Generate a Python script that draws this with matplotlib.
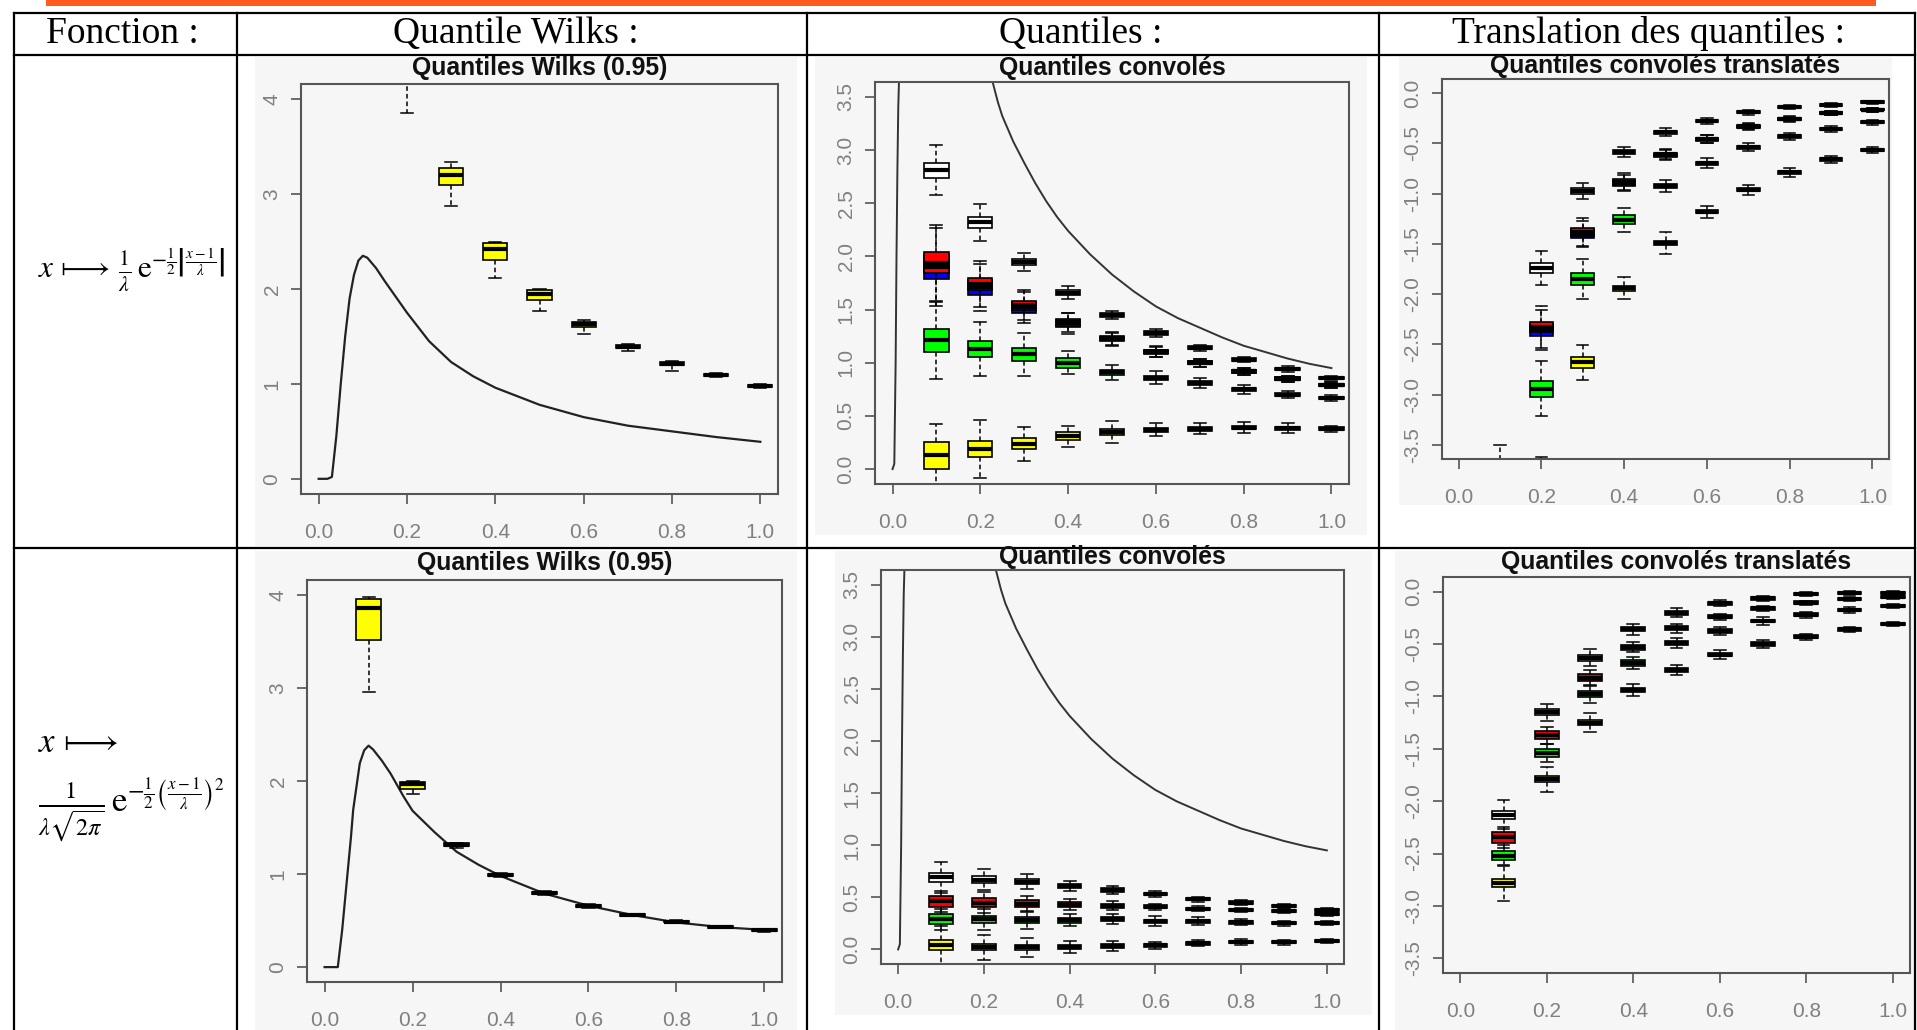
import numpy as np
import matplotlib
matplotlib.use('Agg')
import matplotlib.pyplot as plt
from matplotlib.patches import Rectangle

plt.rcParams['font.family'] = ['Liberation Sans', 'DejaVu Sans']
plt.rcParams['mathtext.fontset'] = 'stix'

W, H = 1917, 1030

# ---------------- data ----------------
x_pos = [0.1, 0.2, 0.3, 0.4, 0.5, 0.6, 0.7, 0.8, 0.9, 1.0]
x_ticks = [0.0, 0.2, 0.4, 0.6, 0.8, 1.0]
x_ticklabels = ['0.0', '0.2', '0.4', '0.6', '0.8', '1.0']

headers = ['Fonction :', 'Quantile Wilks :', 'Quantiles :', 'Translation des quantiles :']
titles_wilks = 'Quantiles Wilks (0.95)'
titles_conv = 'Quantiles convolés'
titles_trans = 'Quantiles convolés translatés'

# density curves (Wilks panels)
lap_x = [0.0, 0.02, 0.03, 0.04, 0.05, 0.06, 0.07, 0.08, 0.09, 0.1, 0.11, 0.13, 0.15,
         0.2, 0.25, 0.3, 0.35, 0.4, 0.5, 0.6, 0.7, 0.8, 0.9, 1.0]
lap_y = [0.0, 0.0, 0.02, 0.45, 1.0, 1.5, 1.9, 2.15, 2.3, 2.35, 2.33, 2.22, 2.08,
         1.75, 1.45, 1.23, 1.08, 0.96, 0.78, 0.65, 0.56, 0.50, 0.44, 0.39]
gau_x = [0.0, 0.03, 0.04, 0.05, 0.06, 0.065, 0.08, 0.09, 0.1, 0.11, 0.13, 0.15,
         0.18, 0.2, 0.25, 0.3, 0.35, 0.4, 0.5, 0.6, 0.7, 0.8, 0.9, 1.0]
gau_y = [0.0, 0.0, 0.4, 0.9, 1.4, 1.69, 2.19, 2.33, 2.38, 2.34, 2.22, 2.08,
         1.83, 1.68, 1.45, 1.24, 1.1, 0.98, 0.79, 0.66, 0.56, 0.48, 0.43, 0.40]

# curves of the convolved panels
hyp_x = [0.228, 0.24, 0.25, 0.275, 0.3, 0.325, 0.35, 0.375, 0.4, 0.45, 0.5, 0.55,
         0.6, 0.65, 0.7, 0.75, 0.8, 0.85, 0.9, 0.95, 1.0]
hyp_y = [3.64, 3.45, 3.32, 3.08, 2.88, 2.69, 2.52, 2.37, 2.24, 2.02, 1.83, 1.67,
         1.53, 1.42, 1.33, 1.24, 1.16, 1.10, 1.04, 0.99, 0.95]
vert_x = [0.0, 0.004, 0.007, 0.009, 0.011, 0.013, 0.015]
vert_y = [0.0, 0.05, 1.0, 2.0, 2.8, 3.4, 3.7]

# Wilks boxplots, row 1
wilks1_lo = [5.2, 3.85, 2.87, 2.12, 1.77, 1.53, 1.35, 1.14, 1.07, 0.96]
wilks1_q1 = [5.6, 4.3, 3.10, 2.31, 1.88, 1.60, 1.38, 1.20, 1.08, 0.965]
wilks1_med = [5.9, 4.5, 3.20, 2.42, 1.95, 1.63, 1.39, 1.21, 1.09, 0.98]
wilks1_q3 = [6.2, 4.7, 3.27, 2.48, 1.99, 1.65, 1.41, 1.23, 1.10, 0.99]
wilks1_hi = [6.8, 5.1, 3.34, 2.50, 2.00, 1.67, 1.42, 1.24, 1.11, 1.00]

# Wilks boxplots, row 2
wilks2_lo = [2.96, 1.86, 1.28, 0.97, 0.78, 0.64, 0.55, 0.48, 0.42, 0.38]
wilks2_q1 = [3.52, 1.91, 1.30, 0.98, 0.79, 0.65, 0.55, 0.485, 0.425, 0.39]
wilks2_med = [3.86, 1.97, 1.31, 0.99, 0.80, 0.66, 0.56, 0.49, 0.43, 0.40]
wilks2_q3 = [3.96, 1.99, 1.33, 1.00, 0.81, 0.67, 0.57, 0.50, 0.44, 0.405]
wilks2_hi = [3.98, 1.995, 1.33, 1.01, 0.82, 0.675, 0.575, 0.505, 0.445, 0.41]

# convolved quantiles, row 1 (median, half box, half whisker)
conv1_white_med = [2.81, 2.32, 1.95, 1.66, 1.45, 1.28, 1.14, 1.03, 0.94, 0.86]
conv1_white_box = [0.07, 0.055, 0.03, 0.025, 0.02, 0.015, 0.015, 0.012, 0.012, 0.01]
conv1_white_wsk = [0.235, 0.175, 0.085, 0.06, 0.04, 0.035, 0.03, 0.025, 0.025, 0.02]
conv1_blue_med = [1.90, 1.71, 1.52, 1.37, 1.22, 1.10, 1.00, 0.92, 0.85, 0.79]
conv1_blue_box = [0.11, 0.07, 0.05, 0.03, 0.02, 0.018, 0.015, 0.012, 0.012, 0.01]
conv1_blue_wsk = [0.37, 0.22, 0.15, 0.095, 0.06, 0.05, 0.04, 0.035, 0.03, 0.025]
conv1_red_med = [1.94, 1.74, 1.54, 1.38, 1.23, 1.105, 1.00, 0.92, 0.85, 0.79]
conv1_red_box = [0.10, 0.06, 0.045, 0.03, 0.02, 0.015, 0.015, 0.012, 0.012, 0.01]
conv1_red_wsk = [0.36, 0.22, 0.14, 0.09, 0.06, 0.05, 0.04, 0.035, 0.03, 0.025]
conv1_green_med = [1.21, 1.13, 1.08, 1.00, 0.91, 0.86, 0.81, 0.75, 0.70, 0.67]
conv1_green_box = [0.11, 0.075, 0.06, 0.047, 0.025, 0.02, 0.018, 0.015, 0.012, 0.01]
conv1_green_wsk = [0.36, 0.25, 0.2, 0.11, 0.07, 0.06, 0.05, 0.045, 0.03, 0.025]
conv1_yellow_med = [0.13, 0.19, 0.24, 0.31, 0.35, 0.37, 0.38, 0.39, 0.385, 0.38]
conv1_yellow_box = [0.125, 0.078, 0.055, 0.035, 0.03, 0.02, 0.018, 0.015, 0.015, 0.012]
conv1_yellow_wsk = [0.29, 0.27, 0.16, 0.10, 0.10, 0.06, 0.05, 0.05, 0.05, 0.03]

# translated quantiles, row 1
tr1_white_med = [-3.9, -1.74, -0.97, -0.59, -0.39, -0.28, -0.19, -0.14, -0.12, -0.09]
tr1_white_box = [0.1, 0.05, 0.03, 0.02, 0.015, 0.012, 0.012, 0.01, 0.01, 0.008]
tr1_white_wsk = [0.4, 0.17, 0.08, 0.05, 0.04, 0.03, 0.025, 0.02, 0.02, 0.015]
tr1_blue_med = [-4.55, -2.36, -1.40, -0.89, -0.62, -0.46, -0.335, -0.26, -0.2, -0.165]
tr1_blue_box = [0.1, 0.06, 0.045, 0.03, 0.015, 0.012, 0.012, 0.01, 0.01, 0.008]
tr1_blue_wsk = [0.3, 0.2, 0.13, 0.08, 0.05, 0.04, 0.03, 0.025, 0.02, 0.02]
tr1_red_med = [-4.5, -2.33, -1.38, -0.88, -0.61, -0.455, -0.33, -0.255, -0.2, -0.165]
tr1_red_box = [0.1, 0.05, 0.04, 0.03, 0.015, 0.012, 0.012, 0.01, 0.01, 0.008]
tr1_red_wsk = [0.3, 0.21, 0.14, 0.08, 0.05, 0.04, 0.03, 0.025, 0.02, 0.02]
tr1_green_med = [-5.3, -2.94, -1.85, -1.26, -0.92, -0.70, -0.54, -0.43, -0.355, -0.29]
tr1_green_box = [0.1, 0.08, 0.06, 0.047, 0.02, 0.015, 0.015, 0.012, 0.012, 0.01]
tr1_green_wsk = [0.3, 0.27, 0.2, 0.12, 0.06, 0.05, 0.04, 0.035, 0.03, 0.025]
tr1_yellow_med = [-6.0, -4.1, -2.68, -1.94, -1.49, -1.18, -0.96, -0.79, -0.66, -0.57]
tr1_yellow_box = [0.1, 0.15, 0.05, 0.025, 0.02, 0.015, 0.015, 0.012, 0.012, 0.01]
tr1_yellow_wsk = [0.3, 0.48, 0.17, 0.11, 0.11, 0.06, 0.05, 0.04, 0.035, 0.03]

# convolved quantiles, row 2
conv2_white_med = [0.69, 0.67, 0.65, 0.61, 0.57, 0.53, 0.48, 0.45, 0.42, 0.38]
conv2_white_box = [0.04, 0.03, 0.025, 0.02, 0.015, 0.012, 0.01, 0.01, 0.01, 0.01]
conv2_white_wsk = [0.15, 0.1, 0.07, 0.05, 0.04, 0.03, 0.025, 0.02, 0.02, 0.02]
conv2_red_med = [0.46, 0.45, 0.44, 0.43, 0.42, 0.41, 0.39, 0.38, 0.37, 0.34]
conv2_red_box = [0.05, 0.04, 0.03, 0.025, 0.02, 0.015, 0.012, 0.012, 0.01, 0.01]
conv2_red_wsk = [0.1, 0.1, 0.07, 0.05, 0.04, 0.03, 0.025, 0.02, 0.02, 0.02]
conv2_green_med = [0.29, 0.29, 0.28, 0.28, 0.29, 0.27, 0.27, 0.26, 0.25, 0.25]
conv2_green_box = [0.045, 0.035, 0.03, 0.025, 0.02, 0.015, 0.012, 0.012, 0.01, 0.01]
conv2_green_wsk = [0.1, 0.1, 0.08, 0.06, 0.05, 0.05, 0.04, 0.03, 0.025, 0.02]
conv2_yellow_med = [0.04, 0.02, 0.02, 0.025, 0.035, 0.04, 0.06, 0.07, 0.07, 0.08]
conv2_yellow_box = [0.05, 0.03, 0.025, 0.02, 0.02, 0.015, 0.015, 0.012, 0.012, 0.012]
conv2_yellow_wsk = [0.18, 0.12, 0.09, 0.06, 0.05, 0.035, 0.03, 0.03, 0.025, 0.02]

# translated quantiles, row 2
tr2_white_med = [-2.13, -1.15, -0.63, -0.36, -0.2, -0.11, -0.065, -0.02, -0.01, -0.01]
tr2_white_box = [0.04, 0.03, 0.03, 0.02, 0.02, 0.015, 0.012, 0.012, 0.01, 0.01]
tr2_white_wsk = [0.14, 0.08, 0.08, 0.05, 0.04, 0.03, 0.025, 0.02, 0.02, 0.02]
tr2_red_med = [-2.345, -1.37, -0.82, -0.53, -0.35, -0.24, -0.16, -0.105, -0.07, -0.054]
tr2_red_box = [0.05, 0.04, 0.035, 0.025, 0.02, 0.015, 0.012, 0.012, 0.01, 0.01]
tr2_red_wsk = [0.1, 0.08, 0.07, 0.05, 0.04, 0.03, 0.025, 0.02, 0.02, 0.02]
tr2_green_med = [-2.52, -1.54, -0.98, -0.68, -0.49, -0.375, -0.28, -0.22, -0.175, -0.137]
tr2_green_box = [0.045, 0.035, 0.03, 0.025, 0.02, 0.015, 0.012, 0.012, 0.01, 0.01]
tr2_green_wsk = [0.1, 0.09, 0.08, 0.06, 0.05, 0.04, 0.035, 0.03, 0.025, 0.02]
tr2_yellow_med = [-2.78, -1.79, -1.25, -0.94, -0.75, -0.6, -0.5, -0.43, -0.36, -0.31]
tr2_yellow_box = [0.04, 0.03, 0.025, 0.02, 0.02, 0.015, 0.015, 0.012, 0.012, 0.012]
tr2_yellow_wsk = [0.17, 0.12, 0.09, 0.06, 0.05, 0.04, 0.035, 0.03, 0.025, 0.02]

c_white, c_blue, c_red, c_green, c_yellow = '#ffffff', '#0000ff', '#ff0000', '#00ff00', '#ffff00'
img_gray = '#f6f6f6'

# ---------------- figure ----------------
fig = plt.figure(figsize=(W / 100, H / 100), dpi=100)
fig.patch.set_facecolor('white')

bg = fig.add_axes([0, 0, 1, 1])
bg.set_xlim(0, W)
bg.set_ylim(H, 0)
bg.axis('off')

# orange rule at the very top
bg.add_patch(Rectangle((46, 0), 1830, 6, color='#ff5a1f', lw=0))

# light gray backgrounds of the R images
for (l, t, r, b) in [(255, 57, 797, 546), (815, 57, 1367, 535), (1399, 57, 1892, 505),
                     (255, 551, 797, 1030), (835, 551, 1372, 1015), (1395, 551, 1917, 1030)]:
    bg.add_patch(Rectangle((l, t), r - l, b - t, color=img_gray, lw=0))

# table grid
for xv in [14, 237, 807, 1379, 1915]:
    bg.plot([xv, xv], [13, H], color='black', lw=1.6)
for yv in [13, 55, 548]:
    bg.plot([14, 1915], [yv, yv], color='black', lw=1.6)

header_x = [122, 516, 1081, 1648]
for hx, txt in zip(header_x, headers):
    bg.text(hx, 43, txt, ha='center', va='baseline', fontsize=27,
            family='Liberation Serif')

# formulas
bg.text(38, 269, r'$x\,\longmapsto\,\frac{1}{\lambda}\,\mathrm{e}^{-\frac{1}{2}\left|\frac{x-1}{\lambda}\right|}$',
        ha='left', va='center', fontsize=22.5)
bg.text(38, 742, r'$x\,\longmapsto$', ha='left', va='center', fontsize=25)
bg.text(38, 810, r'$\frac{1}{\lambda\sqrt{2\pi}}\,\mathrm{e}^{-\frac{1}{2}\left(\frac{x-1}{\lambda}\right)^2}$',
        ha='left', va='center', fontsize=25)


def panel(l, t, r, b, ylim, yticks, ylabels):
    ax = fig.add_axes([l / W, 1 - b / H, (r - l) / W, (b - t) / H])
    ax.set_xlim(-0.04, 1.04)
    ax.set_ylim(*ylim)
    ax.set_facecolor(img_gray)
    for s in ax.spines.values():
        s.set_color('#555555')
        s.set_linewidth(1.5)
    ax.set_xticks(x_ticks)
    ax.set_xticklabels(x_ticklabels)
    ax.set_yticks(yticks)
    ax.set_yticklabels(ylabels, rotation=90, va='center')
    ax.tick_params(direction='out', length=7, width=1.2, color='#555555',
                   labelcolor='#808080', labelsize=15)
    ax.tick_params(axis='x', pad=14)
    ax.tick_params(axis='y', pad=7)
    return ax


def boxes(ax, lo, q1, med, q3, hi, color):
    stats = [dict(med=m, q1=a, q3=c, whislo=w0, whishi=w1, fliers=[])
             for w0, a, m, c, w1 in zip(lo, q1, med, q3, hi)]
    ax.bxp(stats, positions=x_pos, widths=0.055, patch_artist=True, showfliers=False,
           manage_ticks=False,
           boxprops=dict(facecolor=color, edgecolor='black', linewidth=1.2),
           medianprops=dict(color='black', linewidth=3.0, solid_capstyle='butt'),
           whiskerprops=dict(color='black', linestyle=(0, (3, 2)), linewidth=1.1),
           capprops=dict(color='black', linewidth=1.1))


def sym_boxes(ax, med, box, wsk, color):
    lo = [m - max(w, b) for m, b, w in zip(med, box, wsk)]
    hi = [m + max(w, b) for m, b, w in zip(med, box, wsk)]
    q1 = [m - b for m, b in zip(med, box)]
    q3 = [m + b for m, b in zip(med, box)]
    boxes(ax, lo, q1, med, q3, hi, color)


def title(cx, cy, txt):
    bg.text(cx, cy, txt, ha='center', va='center', fontsize=17.8, fontweight='bold',
            color='#111111', zorder=5)


wilks_yt = [0, 1, 2, 3, 4]
wilks_yl = ['0', '1', '2', '3', '4']
conv_yt = [0.0, 0.5, 1.0, 1.5, 2.0, 2.5, 3.0, 3.5]
conv_yl = ['0.0', '0.5', '1.0', '1.5', '2.0', '2.5', '3.0', '3.5']
tr_yt = [0.0, -0.5, -1.0, -1.5, -2.0, -2.5, -3.0, -3.5]
tr_yl = ['0.0', '-0.5', '-1.0', '-1.5', '-2.0', '-2.5', '-3.0', '-3.5']

# row 1, Wilks
ax = panel(301, 84, 778, 494, (-0.16, 4.16), wilks_yt, wilks_yl)
ax.plot(lap_x, lap_y, color='#222222', lw=1.6)
boxes(ax, wilks1_lo, wilks1_q1, wilks1_med, wilks1_q3, wilks1_hi, c_yellow)
title(540, 68, titles_wilks)

# row 1, convolved
ax = panel(875, 82, 1349, 484, (-0.14, 3.64), conv_yt, conv_yl)
ax.plot(vert_x, vert_y, color='#333333', lw=1.4)
ax.plot(hyp_x, hyp_y, color='#333333', lw=1.4)
sym_boxes(ax, conv1_white_med, conv1_white_box, conv1_white_wsk, c_white)
sym_boxes(ax, conv1_blue_med, conv1_blue_box, conv1_blue_wsk, c_blue)
sym_boxes(ax, conv1_red_med, conv1_red_box, conv1_red_wsk, c_red)
sym_boxes(ax, conv1_green_med, conv1_green_box, conv1_green_wsk, c_green)
sym_boxes(ax, conv1_yellow_med, conv1_yellow_box, conv1_yellow_wsk, c_yellow)
title(1112, 68, titles_conv)

# row 1, translated
ax = panel(1442, 79, 1889, 459, (-3.64, 0.14), tr_yt, tr_yl)
sym_boxes(ax, tr1_white_med, tr1_white_box, tr1_white_wsk, c_white)
sym_boxes(ax, tr1_blue_med, tr1_blue_box, tr1_blue_wsk, c_blue)
sym_boxes(ax, tr1_red_med, tr1_red_box, tr1_red_wsk, c_red)
sym_boxes(ax, tr1_green_med, tr1_green_box, tr1_green_wsk, c_green)
sym_boxes(ax, tr1_yellow_med, tr1_yellow_box, tr1_yellow_wsk, c_yellow)
title(1665, 66, titles_trans)

# row 2, Wilks
ax = panel(307, 580, 782, 982, (-0.16, 4.16), wilks_yt, wilks_yl)
ax.plot(gau_x, gau_y, color='#222222', lw=1.6)
boxes(ax, wilks2_lo, wilks2_q1, wilks2_med, wilks2_q3, wilks2_hi, c_yellow)
title(545, 563, titles_wilks)

# row 2, convolved
ax = panel(881, 570, 1344, 964, (-0.14, 3.64), conv_yt, conv_yl)
ax.plot(vert_x, vert_y, color='#333333', lw=1.4)
ax.plot(hyp_x, hyp_y, color='#333333', lw=1.4)
sym_boxes(ax, conv2_white_med, conv2_white_box, conv2_white_wsk, c_white)
sym_boxes(ax, conv2_red_med, conv2_red_box, conv2_red_wsk, c_red)
sym_boxes(ax, conv2_green_med, conv2_green_box, conv2_green_wsk, c_green)
sym_boxes(ax, conv2_yellow_med, conv2_yellow_box, conv2_yellow_wsk, c_yellow)
title(1112, 557, titles_conv)

# row 2, translated
ax = panel(1443, 577, 1910, 973, (-3.64, 0.14), tr_yt, tr_yl)
sym_boxes(ax, tr2_white_med, tr2_white_box, tr2_white_wsk, c_white)
sym_boxes(ax, tr2_red_med, tr2_red_box, tr2_red_wsk, c_red)
sym_boxes(ax, tr2_green_med, tr2_green_box, tr2_green_wsk, c_green)
sym_boxes(ax, tr2_yellow_med, tr2_yellow_box, tr2_yellow_wsk, c_yellow)
title(1676, 562, titles_trans)

plt.savefig('out.png', dpi=100)
